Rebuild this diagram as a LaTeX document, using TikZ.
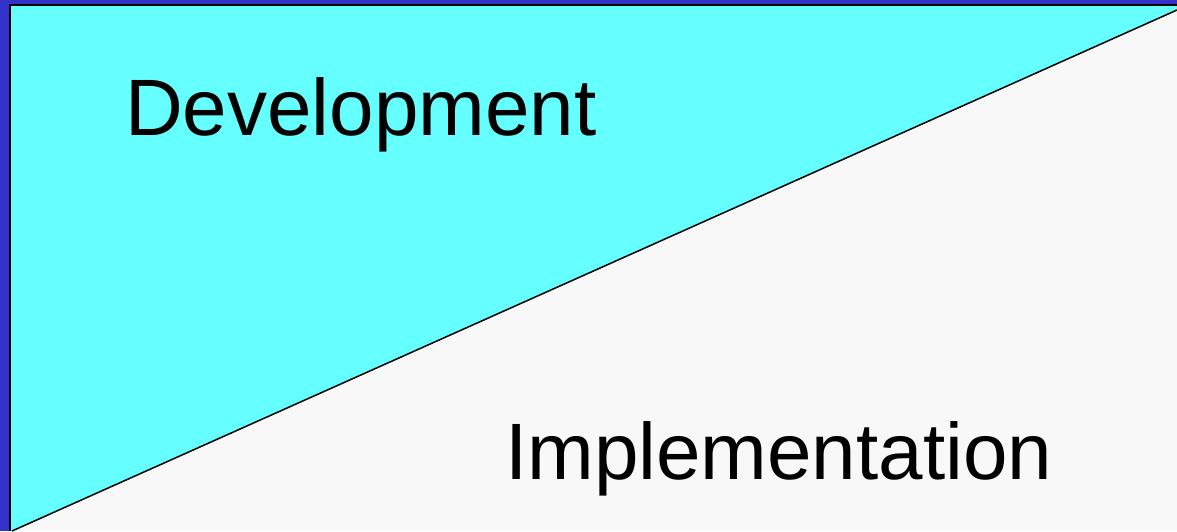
\documentclass[tikz,border=0pt]{standalone}
\usepackage{fontspec}
\setmainfont{Liberation Sans}
\definecolor{frameblue}{HTML}{3333CC}
\definecolor{devcyan}{HTML}{66FFFF}
\definecolor{impgray}{HTML}{F8F8F8}
\tikzset{
  bigtext/.style={inner sep=0pt, anchor=base west, font=\fontsize{80}{96}\selectfont, text=black},
  edge/.style={draw=black, line width=1.5pt}
}
\begin{document}
\begin{tikzpicture}[x=1pt,y=-1pt]
\useasboundingbox (0,0) rectangle (1177,531);
\fill[frameblue] (0,0) rectangle (1177,531);
\fill[impgray] (10,5) rectangle (1177,531);
\fill[devcyan] (10,5) -- (1177,5) -- (1177,10) -- (12,531) -- (10,531) -- cycle;
\draw[edge] (1177,10) -- (12,531);
\draw[edge] (10,531) -- (10,5) -- (1177,5);
\node[bigtext] (dev) at (125,135) {Development};
\node[bigtext] (imp) at (505,479) {Implementation};
\end{tikzpicture}
\end{document}
